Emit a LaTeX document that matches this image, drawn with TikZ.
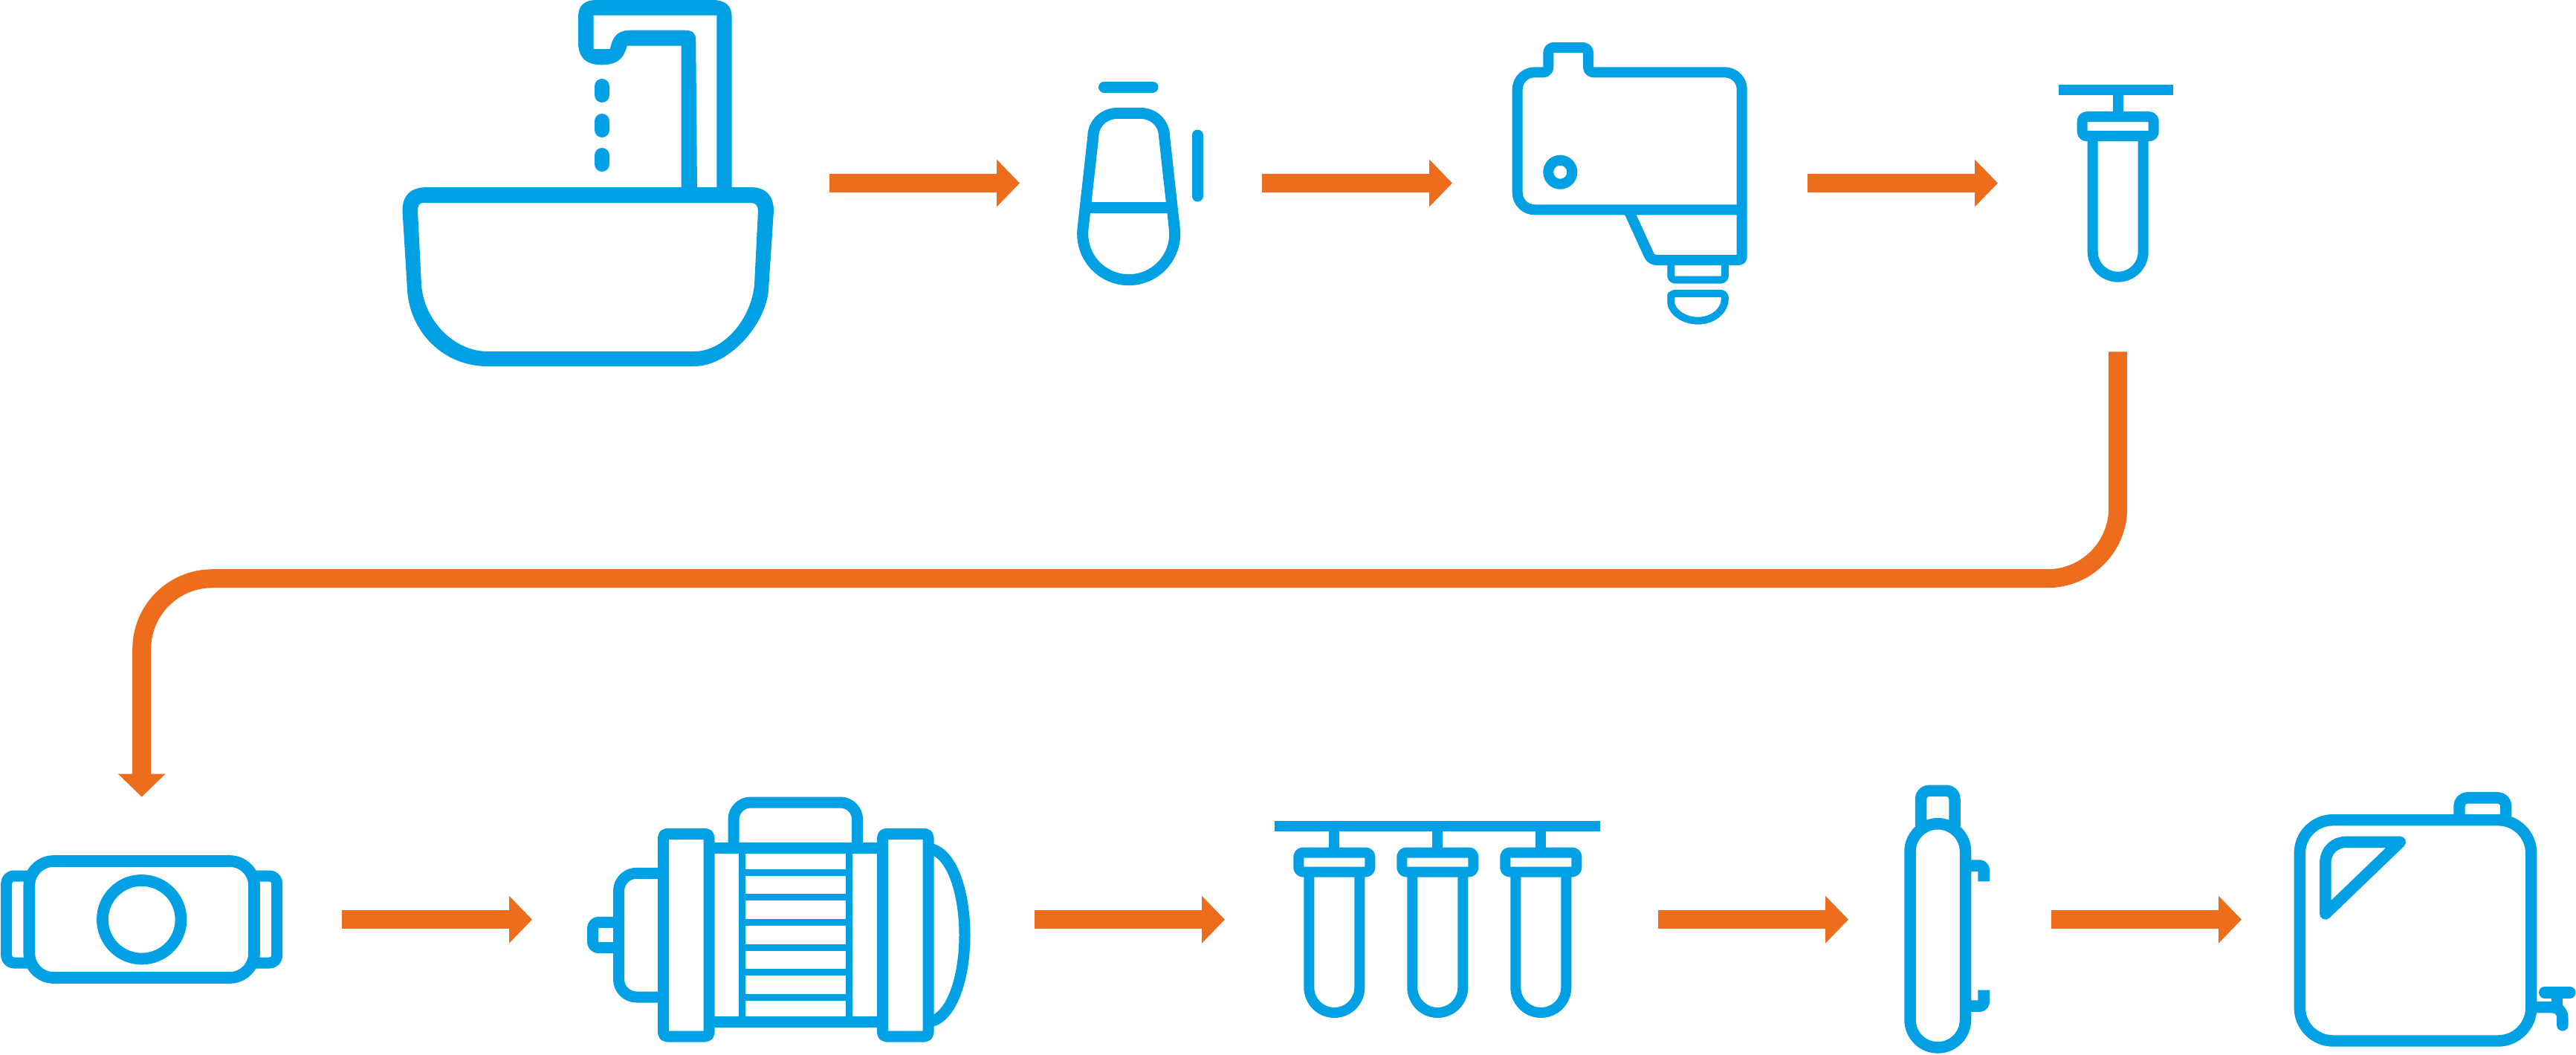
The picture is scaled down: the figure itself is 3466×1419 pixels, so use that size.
\documentclass[tikz,border=0pt]{standalone}
\usetikzlibrary{arrows.meta}
\definecolor{iconblue}{HTML}{00A0E4}
\definecolor{floworange}{HTML}{EE6D1C}
\tikzset{
  icon/.style={draw=iconblue,line width=14pt,line join=round},
  flow/.style={draw=floworange,line width=25pt,-{Triangle[length=31pt,width=62pt]}},
  pics/filter/.style={code={
    \draw[icon] (0,0) -- (0,36);
    \draw[icon,rounded corners=6pt] (-48,36) rectangle (48,62);
    \draw[icon] (-34,62) -- (-34,217.5) arc[start angle=180,end angle=0,radius=34] -- (34,62);
  }}
}
\begin{document}
\begin{tikzpicture}[x=1pt,y=-1pt]
\useasboundingbox (0,0) rectangle (3466,1419);
% sink
\fill[iconblue] (803.6,0) -- (959,0) .. controls (976,0) and (984.7,8) .. (984.7,23) -- (984.7,253) -- (964.3,253) -- (964.3,20.7) -- (798.5,20.7) -- (798.5,66) -- (820.8,66) .. controls (825,47) and (832,40.7) .. (849.5,40.7) -- (921,40.7) .. controls (932,40.7) and (936.2,45) .. (936.2,53) -- (938,253) -- (916.5,253) -- (916.5,61.7) -- (843.8,61.7) .. controls (838,82) and (828,87) .. (809.3,87.3) .. controls (784,87) and (778,73) .. (778,57) -- (778,23) .. controls (778,8) and (785,0) .. (803.6,0) -- cycle;
\fill[iconblue,even odd rule] (575,252) -- (1010,252) .. controls (1032,252) and (1041,265) .. (1041,284) -- (1034,390) .. controls (1031,435) and (982,493) .. (934,493) -- (656,493) .. controls (595,493) and (551,445) .. (548,390) -- (541.5,284) .. controls (541.5,265) and (550,252) .. (575,252) -- cycle
  (570,273) -- (1010,273) .. controls (1017,273) and (1020,277) .. (1020,284) -- (1015,383) .. controls (1011,428) and (975,473) .. (934,473) -- (656,473) .. controls (610,473) and (570,430) .. (567,383) -- (562,284) .. controls (562,277) and (564,273) .. (570,273) -- cycle;
\foreach \dropy in {116,163,209}
  \draw[icon,line width=20pt,line cap=round] (810,\dropy) -- (810,\dropy+12);
% bottle
\draw[icon,line width=15pt,line cap=round] (1485.5,117) -- (1551,117);
\draw[icon,line width=15pt,line cap=round] (1611,182) -- (1611,264);
\draw[icon,line width=15pt] (1505,152.3) -- (1533,152.3) .. controls (1553,152.3) and (1566.7,166) .. (1566.7,185) -- (1580.3,308) arc[start angle=-6.2,end angle=186.2,radius=62] -- (1470.7,185) .. controls (1470.7,166) and (1485,152.3) .. (1505,152.3) -- cycle;
\draw[icon,line width=15pt] (1463.5,279) -- (1574,279);
% dispenser
\draw[icon] (2110,64) [rounded corners=7pt] -- (2083.3,64) -- (2083.3,97.3) [rounded corners=23pt] -- (2041.7,97.3) -- (2041.7,282.3) [sharp corners] -- (2343.7,282.3);
\draw[icon] (2110,64) [rounded corners=7pt] -- (2137,64) -- (2137,97.3) [rounded corners=23pt] -- (2343.7,97.3) [rounded corners=4pt] -- (2343.7,350) [rounded corners=7pt] -- (2221.7,350) [sharp corners] -- (2192,285);
\draw[icon] (2099.3,231.7) circle[radius=16];
\draw[icon,line width=10pt,rounded corners=5pt] (2248.3,350) -- (2248.3,376.7) -- (2320.8,376.7) -- (2320.8,350);
\draw[icon,line width=10pt,rounded corners=5pt] (2284.5,395) -- (2248.3,395) -- (2248.3,402) [sharp corners] .. controls (2248.3,418) and (2264,431.7) .. (2284.5,431.7) .. controls (2305,431.7) and (2320.8,418) .. (2320.8,402) [rounded corners=5pt] -- (2320.8,395) -- cycle;
% first filter
\draw[icon] (2769.7,121.2) -- (2924,121.2);
\pic at (2849.7,121.2) {filter};
% pump
\draw[icon,line width=15.7pt,rounded corners=33pt] (39.3,1159) rectangle (342,1316);
\draw[icon,line width=15pt,rounded corners=10pt] (39.3,1179) -- (8.7,1179) -- (8.7,1296) -- (39.3,1296);
\draw[icon,line width=15pt,rounded corners=10pt] (342,1179) -- (372.7,1179) -- (372.7,1296) -- (342,1296);
\draw[icon,line width=15.7pt] (190.7,1237.7) circle[radius=52.8];
% motor
\draw[icon,line width=15pt,rounded corners=5pt] (892.5,1122.3) rectangle (954,1395);
\draw[icon,line width=15pt,rounded corners=5pt] (1187.5,1122.3) rectangle (1249,1395);
\draw[icon,line width=15pt] (954,1141.7) -- (1187.5,1141.7);
\draw[icon,line width=15pt] (954,1375.7) -- (1187.5,1375.7);
\draw[icon,line width=15pt,rounded corners=23pt] (987,1141.7) -- (987,1080) -- (1153.6,1080) -- (1153.6,1141.7);
\draw[icon,line width=9pt] (998.4,1141.7) -- (998.4,1375.7);
\draw[icon,line width=9pt] (1142.5,1141.7) -- (1142.5,1375.7);
\foreach \finy in {1174,1207.7,1241.4,1275,1308.7,1342.4}
  \draw[icon,line width=9pt] (998.4,\finy) -- (1142.5,\finy);
\draw[icon,line width=15pt,rounded corners=24pt] (892.5,1175.3) -- (832.5,1175.3) -- (832.5,1342) -- (892.5,1342);
\draw[icon,line width=15pt,rounded corners=8pt] (832.5,1241.3) -- (797.5,1241.3) -- (797.5,1275.7) -- (832.5,1275.7);
\draw[icon,line width=15pt] (1249,1142) .. controls (1280,1145) and (1298,1200) .. (1298,1258.5) .. controls (1298,1317) and (1280,1372) .. (1249,1375.5);
% filter row
\draw[icon] (1715,1111.5) -- (2153.3,1111.5);
\foreach \filterx in {1795.3,1934.3,2073.3}
  \pic at (\filterx,1111.5) {filter};
% vessel
\draw[icon,line width=15.5pt,rounded corners=11pt] (2584.5,1112) -- (2584.5,1064.3) -- (2630,1064.3) -- (2630,1112);
\draw[icon,line width=15.5pt] (2570,1146) arc[start angle=180,end angle=360,radius=37.25] -- (2644.5,1372.75) arc[start angle=0,end angle=180,radius=37.25] -- cycle;
\draw[icon,line width=15.5pt,rounded corners=6pt] (2644.5,1165) -- (2669.2,1165) -- (2669.2,1186.3);
\draw[icon,line width=15.5pt,rounded corners=6pt] (2644.5,1354.2) -- (2669.2,1354.2) -- (2669.2,1332.7);
% canister
\draw[icon,line width=15.4pt,rounded corners=44.7pt] (3094.3,1103.7) rectangle (3405.7,1401);
\draw[icon,line width=15.4pt,rounded corners=11pt] (3309,1104) -- (3309,1073.8) -- (3371.7,1073.8) -- (3371.7,1106);
\draw[icon,line width=15.4pt] (3128.8,1230) -- (3128.8,1161) .. controls (3128.8,1145) and (3141,1133.3) .. (3157,1133.3) -- (3229.3,1133.3) -- cycle;
\draw[icon,line width=15.4pt,line cap=round] (3423.7,1335.8) -- (3457.7,1335.8);
\draw[icon,line width=15.4pt] (3440.7,1335.8) -- (3440.7,1356);
\draw[icon,line width=15.4pt,line cap=round] (3405.7,1355.7) -- (3433,1355.7) .. controls (3443,1355.7) and (3447.8,1362) .. (3447.8,1370) -- (3447.8,1380);
% flow arrows
\coordinate (sinkout) at (1116,246.5);
\coordinate (bottlein) at (1372,246.5);
\coordinate (bottleout) at (1698,246.5);
\coordinate (dispin) at (1954,246.5);
\coordinate (dispout) at (2432,246.5);
\coordinate (filterin) at (2688,246.5);
\coordinate (filterout) at (2849.7,473.3);
\coordinate (bendright) at (2849.7,778.7);
\coordinate (bendleft) at (190.7,778.7);
\coordinate (pumpin) at (190.7,1072.6);
\coordinate (pumpout) at (460,1237.7);
\coordinate (motorin) at (716,1237.7);
\coordinate (motorout) at (1392,1237.7);
\coordinate (rowin) at (1648,1237.7);
\coordinate (rowout) at (2231,1237.7);
\coordinate (vesselin) at (2487,1237.7);
\coordinate (vesselout) at (2760,1237.7);
\coordinate (canisterin) at (3016,1237.7);
\draw[flow] (sinkout) -- (bottlein);
\draw[flow] (bottleout) -- (dispin);
\draw[flow] (dispout) -- (filterin);
\draw[flow,rounded corners=95pt] (filterout) -- (bendright) -- (bendleft) -- (pumpin);
\draw[flow] (pumpout) -- (motorin);
\draw[flow] (motorout) -- (rowin);
\draw[flow] (rowout) -- (vesselin);
\draw[flow] (vesselout) -- (canisterin);
\end{tikzpicture}
\end{document}
